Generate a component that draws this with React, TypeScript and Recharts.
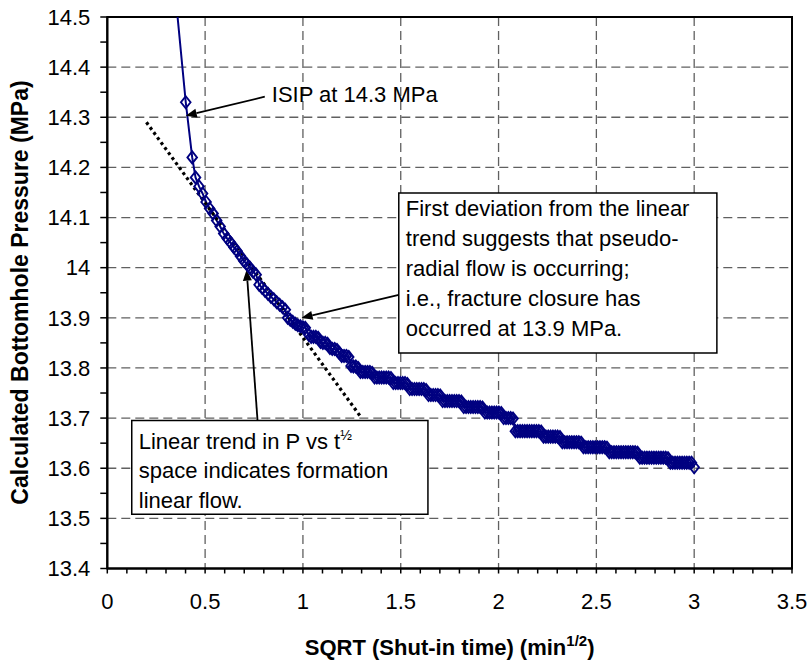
import React from 'react';
import {
  LineChart,
  Line,
  XAxis,
  YAxis,
  CartesianGrid,
  ReferenceArea,
  ReferenceLine,
} from 'recharts';

// ---- data ----
const sqrtTime = [
  0.32, 0.401, 0.434, 0.451, 0.469, 0.487, 0.505, 0.523, 0.541, 0.559,
  0.577, 0.595, 0.613, 0.63, 0.647, 0.664, 0.681, 0.697, 0.713, 0.729,
  0.745, 0.761, 0.776, 0.791, 0.806, 0.821, 0.836, 0.851, 0.866, 0.881,
  0.896, 0.91, 0.922, 0.935, 0.948, 0.961, 0.974, 0.987, 1.0, 1.012,
  1.03, 1.042, 1.054, 1.066, 1.078, 1.09, 1.102, 1.114, 1.126, 1.138,
  1.15, 1.162, 1.174, 1.186, 1.198, 1.21, 1.222, 1.234, 1.246, 1.258,
  1.27, 1.282, 1.294, 1.306, 1.318, 1.33, 1.342, 1.354, 1.366, 1.378,
  1.39, 1.402, 1.414, 1.426, 1.438, 1.45, 1.462, 1.474, 1.486, 1.498,
  1.51, 1.522, 1.534, 1.546, 1.558, 1.57, 1.582, 1.594, 1.606, 1.618,
  1.63, 1.642, 1.654, 1.666, 1.678, 1.69, 1.702, 1.714, 1.726, 1.738,
  1.75, 1.762, 1.774, 1.786, 1.798, 1.81, 1.822, 1.834, 1.846, 1.858,
  1.87, 1.882, 1.894, 1.906, 1.918, 1.93, 1.942, 1.954, 1.966, 1.978,
  1.99, 2.002, 2.014, 2.026, 2.038, 2.05, 2.062, 2.074, 2.086, 2.098,
  2.11, 2.122, 2.134, 2.146, 2.158, 2.17, 2.182, 2.194, 2.206, 2.218,
  2.23, 2.242, 2.254, 2.266, 2.278, 2.29, 2.302, 2.314, 2.326, 2.338,
  2.35, 2.362, 2.374, 2.386, 2.398, 2.41, 2.422, 2.434, 2.446, 2.458,
  2.47, 2.482, 2.494, 2.506, 2.518, 2.53, 2.542, 2.554, 2.566, 2.578,
  2.59, 2.602, 2.614, 2.626, 2.638, 2.65, 2.662, 2.674, 2.686, 2.698,
  2.71, 2.722, 2.734, 2.746, 2.758, 2.77, 2.782, 2.794, 2.806, 2.818,
  2.83, 2.842, 2.854, 2.866, 2.878, 2.89, 2.902, 2.914, 2.926, 2.938,
  2.95, 2.962, 2.974, 2.986, 3.0,
];

const bottomholePressure = [
  14.66, 14.33, 14.22, 14.18, 14.162, 14.148, 14.131, 14.118, 14.108, 14.094,
  14.082, 14.068, 14.058, 14.05, 14.041, 14.033, 14.023, 14.014, 14.007, 14.0,
  13.992, 13.986, 13.966, 13.96, 13.954, 13.948, 13.942, 13.937, 13.931, 13.926,
  13.921, 13.916, 13.9, 13.896, 13.892, 13.888, 13.885, 13.883, 13.881, 13.88,
  13.866, 13.862, 13.862, 13.862, 13.86, 13.852, 13.85, 13.85, 13.848, 13.84,
  13.838, 13.838, 13.836, 13.83, 13.824, 13.824, 13.824, 13.822, 13.804, 13.803,
  13.803, 13.8, 13.792, 13.792, 13.792, 13.792, 13.792, 13.79, 13.781, 13.781,
  13.781, 13.781, 13.781, 13.781, 13.781, 13.78, 13.77, 13.77, 13.77, 13.77,
  13.77, 13.77, 13.768, 13.758, 13.758, 13.758, 13.758, 13.758, 13.758, 13.758,
  13.756, 13.746, 13.746, 13.746, 13.746, 13.746, 13.745, 13.734, 13.734, 13.734,
  13.734, 13.734, 13.734, 13.734, 13.734, 13.733, 13.722, 13.722, 13.722, 13.722,
  13.722, 13.722, 13.722, 13.722, 13.721, 13.711, 13.711, 13.711, 13.711, 13.711,
  13.711, 13.711, 13.71, 13.7, 13.7, 13.7, 13.7, 13.699, 13.674, 13.674,
  13.674, 13.674, 13.674, 13.674, 13.674, 13.674, 13.674, 13.674, 13.674, 13.673,
  13.663, 13.663, 13.663, 13.663, 13.663, 13.663, 13.663, 13.662, 13.652, 13.652,
  13.652, 13.652, 13.652, 13.652, 13.652, 13.652, 13.651, 13.642, 13.642, 13.642,
  13.642, 13.642, 13.642, 13.642, 13.642, 13.642, 13.642, 13.641, 13.632, 13.632,
  13.632, 13.632, 13.632, 13.632, 13.632, 13.632, 13.632, 13.632, 13.632, 13.632,
  13.631, 13.621, 13.621, 13.621, 13.621, 13.621, 13.621, 13.621, 13.621, 13.621,
  13.621, 13.621, 13.621, 13.62, 13.611, 13.611, 13.611, 13.611, 13.611, 13.611,
  13.611, 13.611, 13.611, 13.611, 13.602,
];

// linear trend (dotted)
const trendSqrtTime = [0.2, 1.3];
const trendPressure = [14.29, 13.7];

// axis ticks
const xTicks = [
  0, 0.1, 0.2, 0.3, 0.4, 0.5, 0.6, 0.7, 0.8, 0.9, 1, 1.1, 1.2, 1.3, 1.4, 1.5, 1.6, 1.7, 1.8,
  1.9, 2, 2.1, 2.2, 2.3, 2.4, 2.5, 2.6, 2.7, 2.8, 2.9, 3, 3.1, 3.2, 3.3, 3.4, 3.5,
];
const yTicks = [
  13.4, 13.45, 13.5, 13.55, 13.6, 13.65, 13.7, 13.75, 13.8, 13.85, 13.9, 13.95, 14, 14.05,
  14.1, 14.15, 14.2, 14.25, 14.3, 14.35, 14.4, 14.45, 14.5,
];
const xGridValues = [0.5, 1, 1.5, 2, 2.5, 3];
const yGridValues = [13.5, 13.6, 13.7, 13.8, 13.9, 14, 14.1, 14.2, 14.3, 14.4];

// annotations (data coordinates)
const isipArrow = [{ x: 0.805, y: 14.341 }, { x: 0.401, y: 14.303 }];
const closureArrow = [{ x: 1.49, y: 13.946 }, { x: 0.993, y: 13.9 }];
const linearArrow = [{ x: 0.768, y: 13.695 }, { x: 0.712, y: 13.996 }];
const closureBox = { x1: 1.49, x2: 3.116, y1: 13.83, y2: 14.149 };
const linearBox = { x1: 0.125, x2: 1.639, y1: 13.508, y2: 13.695 };
const closureLines = [
  'First deviation from the linear',
  'trend suggests that pseudo-',
  'radial flow is occurring;',
  'i.e., fracture closure has',
  'occurred at 13.9 MPa.',
];
const linearLines = ['Linear trend in P vs t', 'space indicates formation', 'linear flow.'];

const seriesData = sqrtTime.map((x, i) => ({ x, p: bottomholePressure[i] }));
const trendData = trendSqrtTime.map((x, i) => ({ x, p: trendPressure[i] }));

const FONT = '"Liberation Sans", Arial, Helvetica, sans-serif';
const NAVY = '#000080';

const Diamond = (props: any) => {
  const { cx, cy, index } = props;
  if (cx == null || cy == null || isNaN(cx) || isNaN(cy)) return <g key={`n-${index}`} />;
  return (
    <path
      key={`d-${index}`}
      d={`M${cx},${cy - 6}L${cx + 4.8},${cy}L${cx},${cy + 6}L${cx - 4.8},${cy}Z`}
      fill="none"
      stroke={NAVY}
      strokeWidth={1.9}
    />
  );
};

const makeArrow = (text?: string) => (props: any) => {
  const { x1, y1, x2, y2 } = props;
  const dx = x2 - x1;
  const dy = y2 - y1;
  const len = Math.hypot(dx, dy) || 1;
  const ux = dx / len;
  const uy = dy / len;
  const hl = 11;
  const hw = 4.5;
  const bx = x2 - ux * hl;
  const by = y2 - uy * hl;
  return (
    <g>
      <line x1={x1} y1={y1} x2={bx} y2={by} stroke="#000" strokeWidth={1.8} />
      <polygon
        points={`${x2},${y2} ${bx - uy * hw},${by + ux * hw} ${bx + uy * hw},${by - ux * hw}`}
        fill="#000"
      />
      {text ? (
        <text x={x1 + 7} y={y1 + 5} fontFamily={FONT} fontSize={22} fill="#000">
          {text}
        </text>
      ) : null}
    </g>
  );
};

const boxText = (lines: string[], first: number, gap: number, half?: boolean) => (props: any) => {
  const vb = props.viewBox || {};
  const x = vb.x + 7;
  return (
    <text fontFamily={FONT} fontSize={22} fill="#000">
      {lines.map((l, i) => (
        <tspan key={i} x={x} y={vb.y + first + i * gap}>
          {l}
          {half && i === 0 ? (
            <tspan fontSize={14} dy={-9}>
              ½
            </tspan>
          ) : null}
        </tspan>
      ))}
    </text>
  );
};

const isMajorX = (v: number) => Math.abs(v * 2 - Math.round(v * 2)) < 1e-6;
const isMajorY = (v: number) => Math.abs(v * 10 - Math.round(v * 10)) < 1e-6;

const XTitle = (props: any) => {
  const vb = props.viewBox || {};
  const cx = vb.x + vb.width / 2;
  return (
    <text x={cx} y={vb.y + 86} textAnchor="middle" fontFamily={FONT} fontSize={22} fontWeight="bold" fill="#000">
      SQRT (Shut-in time) (min
      <tspan fontSize={15} dy={-9}>
        1/2
      </tspan>
      <tspan dy={9}>)</tspan>
    </text>
  );
};

const YTitle = () => {
  const cx = 28.3;
  const cy = 292.5;
  return (
    <text
      x={cx}
      y={cy}
      transform={`rotate(-90 ${cx} ${cy})`}
      textAnchor="middle"
      fontFamily={FONT}
      fontSize={23}
      fontWeight="bold"
      fill="#000"
    >
      Calculated Bottomhole Pressure (MPa)
    </text>
  );
};

export default function App() {
  return (
    <div style={{ position: 'absolute', left: 0, top: 0, width: 812, height: 660 }}>
      <LineChart width={812} height={660} margin={{ top: 17, right: 20, bottom: 0, left: 8 }}>
        <CartesianGrid
          horizontalValues={yGridValues}
          verticalValues={xGridValues}
          stroke="#606060"
          strokeWidth={1.3}
          strokeDasharray="9 5"
        />
        <XAxis
          type="number"
          dataKey="x"
          domain={[0, 3.5]}
          allowDataOverflow
          ticks={xTicks}
          interval={0}
          tickSize={5}
          tickMargin={20}
          height={91.5}
          axisLine={{ stroke: '#000', strokeWidth: 2 }}
          tickLine={{ stroke: '#000', strokeWidth: 1.5 }}
          tick={{ fill: '#000', fontSize: 22, fontFamily: FONT }}
          tickFormatter={(v: number) => (isMajorX(v) ? String(v) : '')}
          label={(p: any) => <XTitle {...p} />}
        />
        <YAxis
          type="number"
          domain={[13.4, 14.5]}
          allowDataOverflow
          ticks={yTicks}
          interval={0}
          tickSize={7}
          tickMargin={10}
          width={99.3}
          axisLine={{ stroke: '#000', strokeWidth: 2 }}
          tickLine={{ stroke: '#000', strokeWidth: 1.5 }}
          tick={{ fill: '#000', fontSize: 22, fontFamily: FONT }}
          tickFormatter={(v: number) => (isMajorY(v) ? String(Math.round(v * 10) / 10) : '')}
          label={() => <YTitle />}
        />
        <ReferenceArea
          x1={closureBox.x1}
          x2={closureBox.x2}
          y1={closureBox.y1}
          y2={closureBox.y2}
          fill="#fff"
          fillOpacity={1}
          stroke="#000"
          strokeWidth={1.5}
          label={boxText(closureLines, 22.7, 30)}
        />
        <ReferenceArea
          x1={linearBox.x1}
          x2={linearBox.x2}
          y1={linearBox.y1}
          y2={linearBox.y2}
          fill="#fff"
          fillOpacity={1}
          stroke="#000"
          strokeWidth={1.5}
          label={boxText(linearLines, 28, 29.5, true)}
        />
        <Line
          data={seriesData}
          dataKey="p"
          stroke={NAVY}
          strokeWidth={2}
          dot={Diamond}
          activeDot={false}
          isAnimationActive={false}
        />
        <Line
          data={trendData}
          dataKey="p"
          stroke="#000"
          strokeWidth={3.2}
          strokeDasharray="3 3.2"
          dot={false}
          activeDot={false}
          isAnimationActive={false}
        />
        <ReferenceLine segment={isipArrow} shape={makeArrow('ISIP at 14.3 MPa')} />
        <ReferenceLine segment={closureArrow} shape={makeArrow()} />
        <ReferenceLine segment={linearArrow} shape={makeArrow()} />
        <ReferenceArea x1={0} x2={3.5} y1={13.4} y2={14.5} fill="none" stroke="#000" strokeWidth={2} />
      </LineChart>
    </div>
  );
}
